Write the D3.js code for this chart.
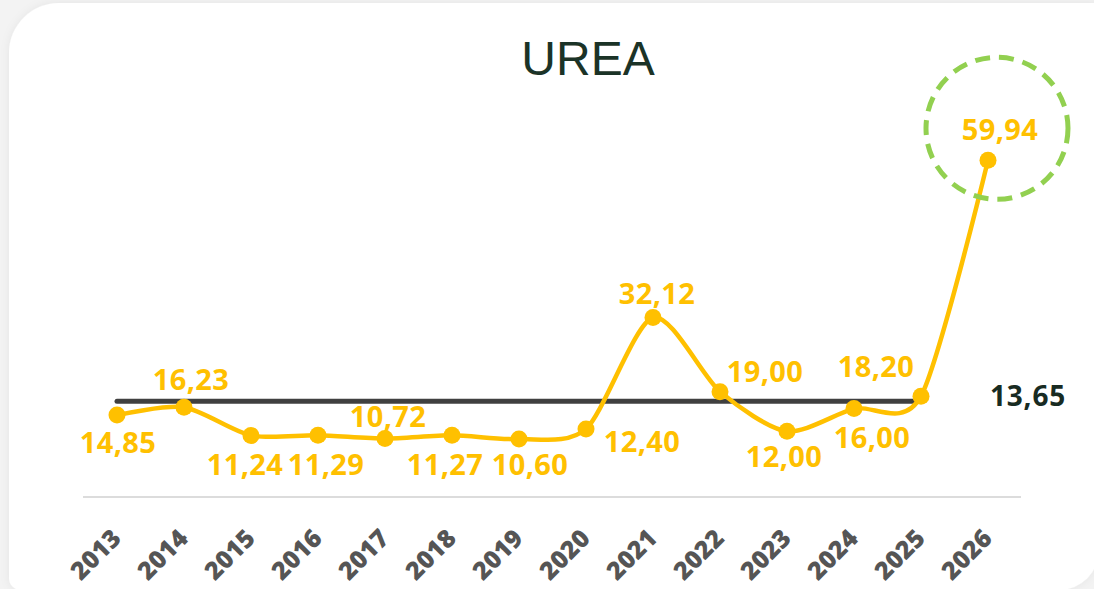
<!DOCTYPE html>
<html>
<head>
<meta charset="utf-8">
<script src="https://cdn.jsdelivr.net/npm/d3@7"></script>
<style>
  html, body { margin: 0; padding: 0; background: #f3f3f3; }
  svg { display: block; }
</style>
</head>
<body>
<svg id="chart" width="1094" height="589"></svg>
<script>
// Urea price series, yearly
const years = ["2013","2014","2015","2016","2017","2018","2019","2020","2021","2022","2023","2024","2025","2026"];
const prices = [14.85, 16.23, 11.24, 11.29, 10.72, 11.27, 10.60, 12.40, 32.12, 19.00, 12.00, 16.00, 18.20, 59.94];
const priceLabels = ["14,85","16,23","11,24","11,29","10,72","11,27","10,60","12,40","32,12","19,00","12,00","16,00","18,20","59,94"];
// Reference level (plotted on its own axis), spanning 2013–2025
const referenceValue = 13.65;
const referenceLabel = "13,65";
const referenceYears = ["2013", "2025"];
const highlightYear = "2026";

// Label placement relative to each point: [dx, dy] of the text baseline centre
const labelOffsets = [[1,38],[7,-17],[-6,40],[8,40],[3,-11],[-7,40],[11,36],[56,23],[4,-14],[45,-10],[-3,36],[18,39],[-45,-19],[12,-20]];

const svg = d3.select("#chart");

// Card with soft shadow
const defs = svg.append("defs");
const f = defs.append("filter").attr("id", "shadow").attr("x", "-5%").attr("y", "-5%").attr("width", "110%").attr("height", "110%");
f.append("feDropShadow").attr("dx", 0).attr("dy", 0).attr("stdDeviation", 5).attr("flood-color", "#000").attr("flood-opacity", 0.06);

function cardPath(x, y, w, h, rtl, rtr, rbr, rbl) {
  const p = d3.path();
  p.moveTo(x + rtl, y);
  p.lineTo(x + w - rtr, y);
  p.arcTo(x + w, y, x + w, y + rtr, rtr);
  p.lineTo(x + w, y + h - rbr);
  p.arcTo(x + w, y + h, x + w - rbr, y + h, rbr);
  p.lineTo(x + rbl, y + h);
  p.arcTo(x, y + h, x, y + h - rbl, rbl);
  p.lineTo(x, y + rtl);
  p.arcTo(x, y, x + rtl, y, rtl);
  p.closePath();
  return p.toString();
}
svg.append("path")
  .attr("d", cardPath(9, 3, 1090, 587, 50, 5, 40, 12))
  .attr("fill", "#ffffff")
  .attr("filter", "url(#shadow)");

// Title
svg.append("text")
  .attr("x", 588).attr("y", 75)
  .attr("text-anchor", "middle")
  .attr("font-family", "'Liberation Sans', Arial, sans-serif")
  .attr("font-size", 48)
  .attr("fill", "#1b3327")
  .text("UREA");

// Scales
const x = d3.scalePoint().domain(years).range([117, 988]);
const y = d3.scaleLinear().domain([0, 60]).range([499, 160]);
const yRef = d3.scaleLinear().domain([0, 30]).range([499, 284]);

// X axis
const xAxis = svg.append("g").attr("transform", "translate(0,497)")
  .call(d3.axisBottom(x).tickSize(0).tickPadding(0));
xAxis.select(".domain").remove();
xAxis.append("line")
  .attr("x1", 83).attr("x2", 1021).attr("y1", 0).attr("y2", 0)
  .attr("stroke", "#dcdcdc").attr("stroke-width", 2);
xAxis.selectAll(".tick text")
  .attr("font-family", "'Open Sans', sans-serif")
  .attr("font-weight", 800)
  .attr("font-size", 25)
  .attr("fill", "#555555")
  .attr("text-anchor", "end")
  .attr("dy", null)
  .attr("y", 0)
  .attr("transform", "translate(5,43) rotate(-45)");

// Reference line
svg.append("line")
  .attr("x1", x(referenceYears[0])).attr("x2", x(referenceYears[1]))
  .attr("y1", yRef(referenceValue)).attr("y2", yRef(referenceValue))
  .attr("stroke", "#404040").attr("stroke-width", 5).attr("stroke-linecap", "round");
svg.append("text")
  .attr("x", 990).attr("y", yRef(referenceValue) + 5)
  .attr("font-family", "'Open Sans', sans-serif")
  .attr("font-weight", 700)
  .attr("font-size", 28)
  .attr("letter-spacing", 0.8)
  .attr("fill", "#182b22")
  .text(referenceLabel);

// Price line
const pts = years.map((yr, i) => ({ year: yr, value: prices[i], label: priceLabels[i], off: labelOffsets[i] }));
const line = d3.line().x(d => x(d.year)).y(d => y(d.value)).curve(d3.curveCardinal.tension(0.2));
svg.append("path")
  .datum(pts)
  .attr("d", line)
  .attr("fill", "none")
  .attr("stroke", "#ffc000")
  .attr("stroke-width", 4.5)
  .attr("stroke-linejoin", "round");

svg.selectAll("circle.pt").data(pts).join("circle")
  .attr("class", "pt")
  .attr("cx", d => x(d.year)).attr("cy", d => y(d.value))
  .attr("r", 8.5)
  .attr("fill", "#ffc000");

svg.selectAll("text.val").data(pts).join("text")
  .attr("class", "val")
  .attr("x", d => x(d.year) + d.off[0])
  .attr("y", d => y(d.value) + d.off[1])
  .attr("text-anchor", "middle")
  .attr("font-family", "'Open Sans', sans-serif")
  .attr("font-weight", 700)
  .attr("font-size", 29)
  .attr("letter-spacing", 0.4)
  .attr("fill", "#ffc000")
  .text(d => d.label);

// Highlight ring around the latest value
const hl = pts.find(d => d.year === highlightYear);
svg.append("circle")
  .attr("cx", x(hl.year) + 9).attr("cy", y(hl.value) - 32)
  .attr("r", 71)
  .attr("fill", "none")
  .attr("stroke", "#92d050")
  .attr("stroke-width", 5)
  .attr("stroke-dasharray", "15 9");
</script>
</body>
</html>
